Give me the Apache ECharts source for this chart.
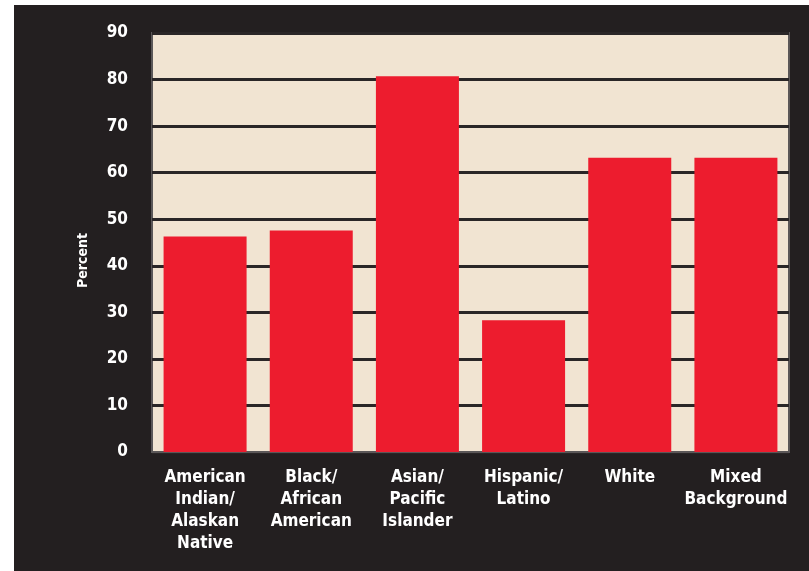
<!DOCTYPE html>
<html>
<head>
<meta charset="utf-8">
<script src="https://cdn.jsdelivr.net/npm/echarts@6/dist/echarts.min.js"></script>
<style>
  html, body { margin: 0; padding: 0; background: #ffffff; }
  #chart { position: absolute; left: 14px; top: 5px; width: 795px; height: 566px; background: #231f20; }
</style>
</head>
<body>
<div id="chart"></div>
<script>
// Share of students by racial/ethnic group (percent)
const categories = [
  'American\nIndian/\nAlaskan\nNative',
  'Black/\nAfrican\nAmerican',
  'Asian/\nPacific\nIslander',
  'Hispanic/\nLatino',
  'White',
  'Mixed\nBackground'
];
const percentValues = [46.3, 47.6, 80.7, 28.3, 63.2, 63.2];
const yTicks = { min: 0, max: 90, step: 10 };

const labelFont = '"Liberation Sans Narrow", "DejaVu Sans Condensed", "Roboto Condensed", sans-serif';

const chart = echarts.init(document.getElementById('chart'), null, { renderer: 'canvas' });
chart.setOption({
  backgroundColor: '#231f20',
  animation: false,
  grid: {
    left: 138, top: 28, right: 20, bottom: 119,
    show: true,
    backgroundColor: '#f1e4d2',
    borderColor: '#5b5758',
    borderWidth: 2
  },
  xAxis: {
    type: 'category',
    data: categories,
    axisLine: { show: true, lineStyle: { color: '#5b5758', width: 2 } },
    axisTick: { show: false },
    axisLabel: {
      color: '#ffffff',
      fontFamily: labelFont,
      fontWeight: 'bold',
      fontSize: 17,
      lineHeight: 22,
      margin: 15,
      interval: 0
    }
  },
  yAxis: {
    type: 'value',
    min: yTicks.min,
    max: yTicks.max,
    interval: yTicks.step,
    name: 'Percent',
    nameLocation: 'middle',
    nameGap: 62,
    nameRotate: 90,
    nameTextStyle: {
      color: '#ffffff',
      fontFamily: labelFont,
      fontWeight: 'bold',
      fontSize: 14,
      padding: [0, 36, 0, 0]
    },
    axisLine: { show: false },
    axisTick: { show: false },
    axisLabel: {
      color: '#ffffff',
      fontFamily: labelFont,
      fontWeight: 'bold',
      fontSize: 17,
      margin: 24
    },
    splitLine: { show: true, lineStyle: { color: '#2a2627', width: 3 } }
  },
  series: [{
    type: 'bar',
    data: percentValues,
    barWidth: 83,
    itemStyle: { color: '#ed1c2e' },
    z: 3
  }]
});
</script>
</body>
</html>
